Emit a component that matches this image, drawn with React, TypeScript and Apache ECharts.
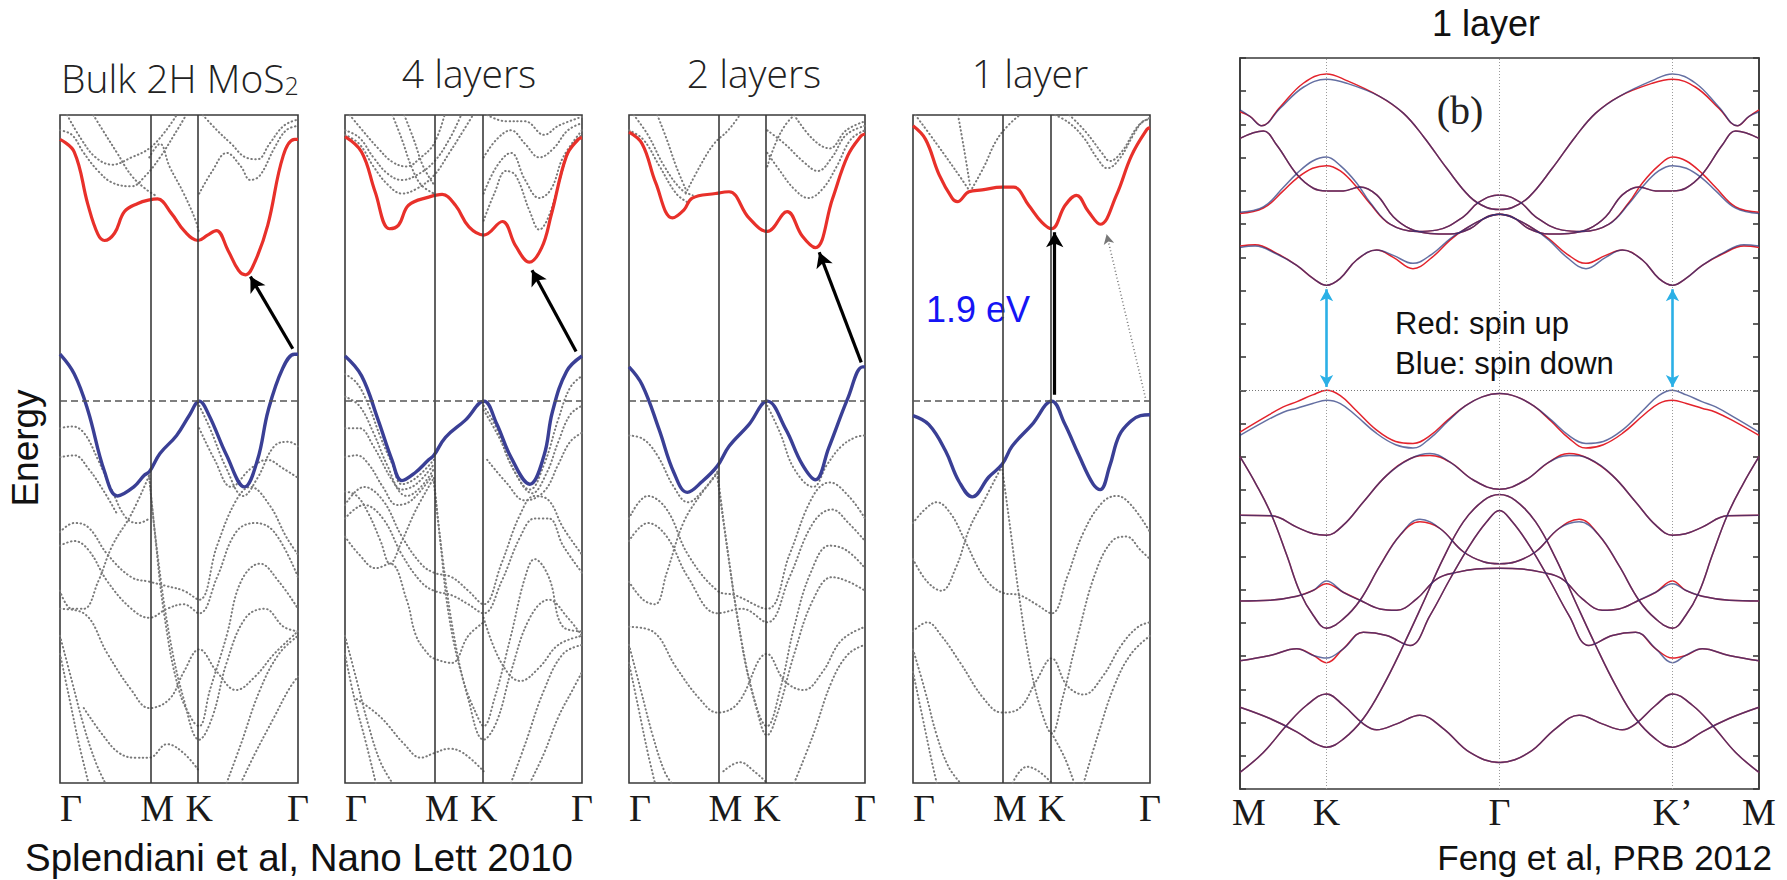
import React, { useEffect, useRef } from "react";
import * as echarts from "echarts";

// ---------------- data: panels 1-4 (Splendiani) ----------------
const K_POS = [0, 0.375, 0.585, 1];
const K_LABELS = ["Γ", "M", "K", "Γ"];
const TITLES = ["Bulk 2H MoS", "4 layers", "2 layers", "1 layer"];
const E_MIN = -4.23;
const E_MAX = 3.17;

const p1CB = [[0,2.90],[0.06,2.76],[0.117,2.18],[0.159,1.85],[0.187,1.78],[0.229,1.86],[0.271,2.10],[0.327,2.19],[0.376,2.23],[0.41,2.24],[0.468,2.08],[0.524,1.88],[0.58,1.78],[0.62,1.84],[0.657,1.89],[0.706,1.67],[0.75,1.45],[0.78,1.40],[0.82,1.55],[0.873,1.95],[0.938,2.72],[0.986,2.90],[1,2.90]];
const p1VB = [[0,0.52],[0.06,0.3],[0.117,-0.1],[0.187,-0.78],[0.242,-1.05],[0.31,-0.95],[0.354,-0.82],[0.376,-0.78],[0.42,-0.58],[0.49,-0.38],[0.545,-0.15],[0.585,0],[0.625,-0.15],[0.70,-0.60],[0.775,-0.95],[0.83,-0.65],[0.875,-0.1],[0.935,0.36],[0.985,0.52],[1,0.52]];
const p2CB = [[0,2.93],[0.07,2.76],[0.127,2.32],[0.187,1.91],[0.226,1.95],[0.268,2.17],[0.353,2.26],[0.41,2.29],[0.466,2.17],[0.523,1.93],[0.586,1.84],[0.664,1.99],[0.72,1.72],[0.778,1.54],[0.83,1.7],[0.87,2.06],[0.935,2.72],[0.984,2.90],[1,2.92]];
const p2VB = [[0,0.50],[0.07,0.28],[0.14,-0.21],[0.198,-0.65],[0.24,-0.88],[0.297,-0.79],[0.353,-0.65],[0.375,-0.60],[0.424,-0.40],[0.508,-0.21],[0.586,0],[0.64,-0.25],[0.70,-0.62],[0.78,-0.92],[0.84,-0.6],[0.875,-0.12],[0.935,0.33],[1,0.50]];
const p3CB = [[0,2.98],[0.056,2.85],[0.113,2.42],[0.184,2.03],[0.233,2.12],[0.268,2.25],[0.367,2.30],[0.424,2.32],[0.508,2.03],[0.586,1.88],[0.67,2.10],[0.734,1.83],[0.79,1.70],[0.862,2.24],[0.927,2.72],[0.984,2.94],[1,2.96]];
const p3VB = [[0,0.38],[0.056,0.18],[0.127,-0.31],[0.19,-0.79],[0.247,-1.01],[0.31,-0.89],[0.374,-0.72],[0.424,-0.50],[0.508,-0.26],[0.586,0],[0.664,-0.31],[0.734,-0.70],[0.79,-0.87],[0.846,-0.52],[0.927,0.03],[0.99,0.38],[1,0.38]];
const p4CB = [[0,3.05],[0.053,2.90],[0.11,2.51],[0.165,2.25],[0.187,2.21],[0.236,2.32],[0.292,2.34],[0.376,2.37],[0.425,2.37],[0.488,2.17],[0.544,1.98],[0.585,1.91],[0.642,2.17],[0.69,2.28],[0.74,2.1],[0.79,1.96],[0.858,2.28],[0.922,2.72],[0.987,3.01],[1,3.03]];
const p4VB = [[0,-0.16],[0.067,-0.26],[0.137,-0.55],[0.194,-0.89],[0.25,-1.06],[0.32,-0.84],[0.376,-0.70],[0.418,-0.50],[0.502,-0.26],[0.585,0],[0.64,-0.25],[0.70,-0.60],[0.76,-0.92],[0.79,-0.98],[0.83,-0.72],[0.87,-0.38],[0.92,-0.22],[0.96,-0.16],[1,-0.15]];

const p1Dots = [
  [[0,3.0],[0.05,2.95],[0.1,2.75],[0.16,2.55],[0.22,2.42],[0.3,2.38],[0.36,2.5],[0.42,2.7],[0.48,2.95],[0.53,3.17]],
  [[0.03,3.17],[0.09,2.9],[0.15,2.7],[0.22,2.62],[0.3,2.7],[0.375,2.8],[0.44,2.98],[0.49,3.17]],
  [[0.14,3.17],[0.18,3.0],[0.24,2.75],[0.3,2.5],[0.36,2.35],[0.4,2.28]],
  [[0.375,2.7],[0.42,2.85],[0.46,2.6],[0.52,2.3],[0.57,2.0],[0.585,1.85]],
  [[0.585,2.3],[0.64,2.55],[0.7,2.75],[0.76,2.6],[0.8,2.45],[0.84,2.5],[0.9,2.8],[0.95,3.0],[1,3.05]],
  [[0.6,3.17],[0.66,3.0],[0.72,2.85],[0.78,2.7],[0.83,2.68],[0.88,2.85],[0.94,3.05],[1,3.12]],
  [[0,-0.3],[0.05,-0.28],[0.1,-0.35],[0.16,-0.65],[0.22,-1.0],[0.28,-1.3],[0.33,-1.35],[0.375,-1.3]],
  [[0,-0.62],[0.06,-0.6],[0.12,-0.75],[0.18,-0.98],[0.24,-1.25]],
  [[0.585,-0.05],[0.63,-0.3],[0.7,-0.75],[0.77,-1.05],[0.83,-0.85],[0.9,-0.5],[0.96,-0.45],[1,-0.5]],
  [[0.585,-0.3],[0.65,-0.65],[0.72,-0.95],[0.8,-0.75],[0.87,-0.65],[0.94,-0.75],[1,-0.85]],
  [[0,-1.45],[0.06,-1.35],[0.12,-1.4],[0.2,-1.7],[0.3,-1.95],[0.375,-2.0],[0.45,-2.05],[0.52,-2.1],[0.585,-2.2],[0.66,-1.6],[0.74,-1.1],[0.8,-0.95],[0.88,-1.15],[0.95,-1.5],[1,-1.7]],
  [[0,-1.6],[0.06,-1.55],[0.12,-1.65],[0.2,-2.0],[0.3,-2.3],[0.375,-2.4],[0.45,-2.3],[0.52,-2.25],[0.585,-2.35],[0.66,-1.95],[0.74,-1.45],[0.82,-1.35],[0.9,-1.45],[1,-1.95]],
  [[0,-2.1],[0.05,-2.3],[0.1,-2.3],[0.16,-2.0],[0.22,-1.6],[0.3,-1.25],[0.375,-0.82]],
  [[0.375,-0.82],[0.4,-1.5],[0.44,-2.4],[0.5,-3.2],[0.56,-3.55],[0.585,-3.6],[0.63,-3.2],[0.7,-2.6],[0.76,-2.0],[0.84,-1.8],[0.92,-2.0],[1,-2.3]],
  [[0.375,-0.85],[0.41,-1.7],[0.46,-2.6],[0.52,-3.3],[0.585,-3.75],[0.64,-3.5],[0.7,-2.9],[0.78,-2.4],[0.86,-2.3],[0.94,-2.5],[1,-2.55]],
  [[0,-2.3],[0.1,-2.35],[0.2,-2.8],[0.3,-3.2],[0.375,-3.4],[0.46,-3.3],[0.52,-3.0],[0.585,-2.75],[0.66,-3.0],[0.74,-3.2],[0.82,-3.05],[0.9,-2.8],[1,-2.55]],
  [[0,-2.6],[0.05,-3.1],[0.1,-3.6],[0.15,-4.0],[0.19,-4.23]],
  [[0,-2.8],[0.04,-3.3],[0.08,-3.8],[0.12,-4.23]],
  [[0.1,-3.4],[0.18,-3.7],[0.25,-3.9],[0.32,-3.95],[0.375,-3.95],[0.45,-3.8],[0.52,-3.9],[0.585,-4.1]],
  [[0.7,-4.23],[0.76,-3.8],[0.84,-3.2],[0.92,-2.8],[1,-2.6]],
  [[0.76,-4.23],[0.82,-3.9],[0.9,-3.5],[0.96,-3.2],[1,-3.05]]
];
const p2Dots = [
  [[0,2.95],[0.06,2.85],[0.12,2.6],[0.18,2.4],[0.24,2.3],[0.3,2.35],[0.375,2.5],[0.44,2.75],[0.5,3.0],[0.54,3.17]],
  [[0,3.0],[0.06,2.92],[0.12,2.7],[0.18,2.52],[0.24,2.45],[0.3,2.5],[0.375,2.65],[0.44,2.9],[0.49,3.17]],
  [[0.02,3.17],[0.08,2.98],[0.14,2.8],[0.2,2.65],[0.26,2.6],[0.32,2.7],[0.375,2.85],[0.42,3.17]],
  [[0.2,3.17],[0.24,2.9],[0.28,2.6],[0.32,2.4],[0.375,2.3]],
  [[0.25,3.17],[0.29,2.9],[0.33,2.6],[0.375,2.4]],
  [[0.585,2.0],[0.63,2.3],[0.68,2.55],[0.72,2.5],[0.78,2.1],[0.82,1.9],[0.86,2.05],[0.9,2.4],[0.95,2.8],[1,2.95]],
  [[0.585,2.3],[0.64,2.6],[0.7,2.75],[0.76,2.45],[0.82,2.25],[0.87,2.35],[0.92,2.7],[1,3.0]],
  [[0.585,2.7],[0.64,2.9],[0.7,3.0],[0.76,2.85],[0.82,2.7],[0.88,2.8],[0.94,3.0],[1,3.08]],
  [[0.6,3.17],[0.68,3.1],[0.76,3.1],[0.84,2.95],[0.9,3.05],[1,3.15]],
  [[0,0.3],[0.05,0.2],[0.1,-0.05],[0.15,-0.4],[0.2,-0.7],[0.24,-0.92],[0.3,-0.85],[0.375,-0.65]],
  [[0,0.05],[0.06,-0.05],[0.12,-0.35],[0.18,-0.72],[0.24,-0.98],[0.3,-0.92],[0.375,-0.7]],
  [[0,-0.3],[0.06,-0.3],[0.12,-0.5],[0.2,-0.88],[0.26,-1.05],[0.32,-0.95],[0.375,-0.75]],
  [[0,-0.62],[0.05,-0.6],[0.1,-0.7],[0.16,-0.95],[0.22,-1.15],[0.28,-1.1],[0.375,-0.8]],
  [[0.585,-0.05],[0.64,-0.3],[0.7,-0.7],[0.78,-0.98],[0.84,-0.7],[0.9,-0.2],[0.95,0.15],[1,0.28]],
  [[0.585,-0.1],[0.65,-0.4],[0.72,-0.8],[0.79,-1.02],[0.85,-0.8],[0.9,-0.45],[0.95,-0.15],[1,-0.05]],
  [[0.6,-0.65],[0.68,-0.9],[0.76,-1.1],[0.84,-1.0],[0.9,-0.7],[0.95,-0.45],[1,-0.35]],
  [[0,-1.0],[0.05,-1.05],[0.1,-1.25],[0.15,-1.55],[0.19,-1.8],[0.24,-1.55],[0.3,-1.2],[0.375,-0.85]],
  [[0,-1.5],[0.06,-1.7],[0.13,-1.85],[0.19,-1.8],[0.26,-2.2],[0.3,-2.6],[0.35,-2.8],[0.375,-2.85],[0.45,-2.9],[0.52,-2.6],[0.585,-2.45]],
  [[0,-1.15],[0.08,-0.95],[0.16,-1.1],[0.24,-1.5],[0.32,-1.8],[0.375,-1.9],[0.45,-1.95],[0.52,-2.1],[0.585,-2.25],[0.66,-1.8],[0.74,-1.25],[0.8,-1.05],[0.86,-1.1],[0.92,-1.4],[1,-1.7]],
  [[0,-1.3],[0.08,-1.15],[0.16,-1.3],[0.24,-1.7],[0.32,-2.0],[0.375,-2.1],[0.45,-2.15],[0.52,-2.25],[0.585,-2.35],[0.66,-2.0],[0.74,-1.5],[0.8,-1.3],[0.86,-1.3],[0.92,-1.6],[1,-1.9]],
  [[0.375,-0.85],[0.4,-1.5],[0.44,-2.4],[0.5,-3.1],[0.56,-3.5],[0.585,-3.6],[0.63,-3.3],[0.7,-2.6],[0.76,-1.95],[0.8,-1.75],[0.86,-1.95],[0.92,-2.5],[1,-2.55]],
  [[0.375,-0.9],[0.41,-1.7],[0.46,-2.6],[0.52,-3.3],[0.585,-3.75],[0.64,-3.55],[0.7,-3.0],[0.78,-2.4],[0.86,-2.2],[0.94,-2.4],[1,-2.6]],
  [[0,-2.6],[0.05,-3.1],[0.1,-3.6],[0.15,-4.0],[0.2,-4.23]],
  [[0,-2.8],[0.04,-3.3],[0.09,-3.8],[0.13,-4.23]],
  [[0.05,-3.3],[0.15,-3.5],[0.25,-3.8],[0.32,-3.95],[0.375,-3.9],[0.44,-3.85],[0.5,-3.9],[0.585,-4.1]],
  [[0.585,-2.4],[0.66,-2.9],[0.74,-3.1],[0.82,-2.95],[0.9,-2.7],[1,-2.6]],
  [[0.7,-4.23],[0.76,-3.8],[0.84,-3.2],[0.92,-2.8],[1,-2.7]],
  [[0.78,-4.23],[0.84,-3.9],[0.9,-3.5],[0.96,-3.2],[1,-3.0]]
];
const p3Dots = [
  [[0,3.0],[0.06,2.9],[0.13,2.6],[0.2,2.3],[0.25,2.2]],
  [[0.02,3.17],[0.08,2.95],[0.15,2.6],[0.22,2.35],[0.27,2.28]],
  [[0.12,3.17],[0.16,2.9],[0.2,2.6],[0.24,2.35]],
  [[0.24,2.3],[0.3,2.6],[0.36,2.85],[0.42,3.0],[0.47,3.17]],
  [[0.586,2.6],[0.62,2.85],[0.66,3.05],[0.7,3.17]],
  [[0.586,2.75],[0.64,2.55],[0.7,2.35],[0.76,2.25],[0.82,2.35],[0.88,2.6],[0.94,2.9],[1,3.0]],
  [[0.586,3.0],[0.66,2.85],[0.74,2.65],[0.8,2.55],[0.86,2.7],[0.92,2.95],[1,3.05]],
  [[0.7,3.17],[0.78,2.9],[0.85,2.8],[0.92,3.0],[1,3.1]],
  [[0,-0.38],[0.06,-0.42],[0.12,-0.6],[0.19,-0.95],[0.25,-1.12],[0.31,-1.0],[0.375,-0.78]],
  [[0.586,-0.05],[0.64,-0.35],[0.7,-0.75],[0.78,-0.95],[0.84,-0.7],[0.9,-0.5],[0.96,-0.4],[1,-0.38]],
  [[0,-1.3],[0.08,-1.05],[0.16,-1.2],[0.25,-1.7],[0.375,-2.1],[0.45,-2.15],[0.585,-2.3],[0.68,-1.7],[0.78,-1.05],[0.85,-0.9],[0.93,-1.05],[1,-1.3]],
  [[0,-1.55],[0.08,-1.35],[0.16,-1.5],[0.25,-1.95],[0.375,-2.35],[0.48,-2.3],[0.585,-2.45],[0.68,-1.95],[0.78,-1.35],[0.86,-1.2],[0.93,-1.35],[1,-1.55]],
  [[0,-2.0],[0.06,-2.2],[0.11,-2.25],[0.16,-1.9],[0.23,-1.35],[0.3,-1.05],[0.375,-0.8]],
  [[0.375,-0.8],[0.41,-1.5],[0.46,-2.4],[0.52,-3.2],[0.585,-3.6],[0.64,-3.2],[0.7,-2.5],[0.77,-1.9],[0.85,-1.6],[0.92,-1.65],[1,-1.85]],
  [[0.375,-0.85],[0.42,-1.7],[0.48,-2.7],[0.54,-3.4],[0.585,-3.7],[0.63,-3.45],[0.7,-2.8],[0.78,-2.2],[0.86,-1.95],[0.93,-2.0],[1,-2.1]],
  [[0,-2.5],[0.1,-2.55],[0.2,-2.95],[0.3,-3.3],[0.375,-3.45],[0.46,-3.35],[0.585,-2.8],[0.66,-3.1],[0.74,-3.2],[0.82,-3.0],[0.9,-2.65],[1,-2.5]],
  [[0,-2.7],[0.05,-3.2],[0.1,-3.7],[0.15,-4.1],[0.18,-4.23]],
  [[0,-2.9],[0.04,-3.4],[0.08,-3.9],[0.11,-4.23]],
  [[0.7,-4.23],[0.78,-3.7],[0.86,-3.1],[0.93,-2.8],[1,-2.7]],
  [[0.4,-4.1],[0.47,-4.0],[0.53,-4.1],[0.585,-4.23]]
];
const p4Dots = [
  [[0.01,3.17],[0.1,2.85],[0.2,2.48],[0.236,2.34]],
  [[0.19,3.17],[0.215,2.8],[0.24,2.4]],
  [[0.25,2.36],[0.3,2.6],[0.35,2.88],[0.4,3.05],[0.45,3.17]],
  [[0.6,3.17],[0.66,3.08],[0.72,2.92],[0.78,2.68],[0.82,2.58],[0.87,2.68],[0.93,2.95],[0.97,3.1],[1,3.12]],
  [[0.66,3.17],[0.73,2.98],[0.8,2.74],[0.83,2.66],[0.88,2.76],[0.95,3.05],[1,3.14]],
  [[0,-1.35],[0.05,-1.2],[0.1,-1.12],[0.16,-1.25],[0.22,-1.55],[0.3,-1.95],[0.375,-2.12],[0.45,-2.15],[0.52,-2.25],[0.585,-2.35],[0.65,-1.95],[0.72,-1.45],[0.8,-1.12],[0.86,-1.05],[0.92,-1.15],[1,-1.45]],
  [[0,-1.75],[0.06,-2.0],[0.12,-2.1],[0.18,-1.85],[0.24,-1.4],[0.3,-1.1],[0.375,-0.72]],
  [[0.375,-0.72],[0.41,-1.4],[0.45,-2.2],[0.5,-3.0],[0.55,-3.5],[0.585,-3.68],[0.63,-3.3],[0.7,-2.55],[0.77,-1.9],[0.84,-1.55],[0.9,-1.5],[0.96,-1.65],[1,-1.75]],
  [[0,-2.55],[0.06,-2.45],[0.12,-2.6],[0.2,-2.9],[0.3,-3.3],[0.375,-3.45],[0.45,-3.4],[0.52,-3.1],[0.585,-2.85],[0.65,-3.15],[0.72,-3.25],[0.8,-3.05],[0.88,-2.7],[0.95,-2.5],[1,-2.45]],
  [[0,-2.75],[0.05,-3.2],[0.1,-3.7],[0.15,-4.05],[0.2,-4.23]],
  [[0,-3.0],[0.04,-3.5],[0.08,-4.0],[0.1,-4.23]],
  [[0.585,-3.68],[0.64,-3.95],[0.68,-4.23]],
  [[0.72,-4.23],[0.78,-3.7],[0.85,-3.15],[0.92,-2.8],[1,-2.6]],
  [[0.42,-4.23],[0.48,-4.05],[0.53,-4.1],[0.585,-4.23]]
];

const ARROWS = [
  { from: [0.978, 0.58], to: [0.80, 1.38] },
  { from: [0.975, 0.55], to: [0.789, 1.45] },
  { from: [0.984, 0.43], to: [0.806, 1.65] },
  { from: [0.598, 0.07], to: [0.598, 1.87] }
];
const P4_INDIRECT = { from: [0.984, 0.0], to: [0.817, 1.85] };

// ---------------- data: panel 5 (Feng) [k, E_up(red), E_down(blue)] ----------------
const K5_POS = [0, 0.5, 1.5, 2.5, 3];
const K5_LABELS = ["M", "K", "Γ", "K\u2019", "M"];
const GAP_ARROWS = [
  { from: [0.5, 0.05], to: [0.5, 1.52] },
  { from: [2.5, 0.05], to: [2.5, 1.52] }
];

const bT1 = [[0,4.19,4.22],[0.058,4.12],[0.125,3.98],[0.231,4.26,4.24],[0.366,4.62,4.56],[0.5,4.76,4.68],[0.617,4.66,4.62],[0.809,4.42],[0.944,4.17],[1.06,3.82],[1.195,3.34],[1.329,2.91],[1.426,2.75],[1.5,2.72],[1.574,2.75],[1.671,2.91],[1.805,3.34],[1.94,3.82],[2.056,4.17],[2.191,4.42],[2.383,4.62,4.66],[2.5,4.68,4.76],[2.634,4.56,4.62],[2.769,4.24,4.26],[2.875,3.98],[2.942,4.12],[3,4.22,4.19]];
const bT2 = [[0,3.79],[0.135,3.90],[0.212,3.69],[0.328,3.25],[0.424,3.04],[0.5,3.0],[0.597,3.0],[0.694,3.06],[0.79,2.94],[0.886,2.61],[0.983,2.43],[1.098,2.36],[1.214,2.35],[1.329,2.43],[1.426,2.61],[1.5,2.65],[1.574,2.61],[1.671,2.43],[1.786,2.35],[1.902,2.36],[2.017,2.43],[2.114,2.61],[2.21,2.94],[2.306,3.06],[2.403,3.0],[2.5,3.0],[2.576,3.04],[2.672,3.25],[2.788,3.69],[2.865,3.90],[3,3.79]];
const bT3 = [[0,2.66,2.68],[0.135,2.74,2.76],[0.25,3.0,3.05],[0.328,3.19,3.26],[0.42,3.34,3.45],[0.5,3.38,3.51],[0.58,3.30,3.38],[0.674,3.06,3.12],[0.751,2.81,2.83],[0.867,2.5],[1.021,2.39],[1.137,2.41],[1.291,2.61],[1.381,2.83],[1.5,2.94],[1.619,2.83],[1.709,2.61],[1.863,2.41],[1.979,2.39],[2.133,2.5],[2.249,2.83,2.81],[2.326,3.12,3.06],[2.42,3.38,3.30],[2.5,3.51,3.38],[2.58,3.45,3.34],[2.672,3.26,3.19],[2.75,3.05,3.0],[2.865,2.76,2.74],[3,2.68,2.66]];
const bA = [[0,2.17,2.15],[0.087,2.19,2.17],[0.212,2.06,2.05],[0.328,1.88],[0.424,1.68],[0.5,1.58],[0.578,1.68],[0.674,1.96],[0.79,2.11],[0.886,2.0,2.03],[1.0,1.83,1.91],[1.11,2.0,2.05],[1.214,2.26,2.28],[1.291,2.41],[1.407,2.58],[1.5,2.65],[1.593,2.58],[1.709,2.41],[1.786,2.28,2.26],[1.89,2.05,2.0],[2.0,1.91,1.83],[2.114,2.03,2.0],[2.21,2.11],[2.326,1.96],[2.422,1.68],[2.5,1.58],[2.576,1.68],[2.672,1.88],[2.788,2.05,2.06],[2.913,2.17,2.19],[3,2.15,2.17]];
const bV1 = [[0,-0.63,-0.68],[0.135,-0.42,-0.48],[0.25,-0.25,-0.33],[0.33,-0.17,-0.27],[0.42,-0.07,-0.2],[0.5,0,-0.15],[0.58,-0.08,-0.2],[0.67,-0.3,-0.38],[0.79,-0.6,-0.65],[0.9,-0.77,-0.82],[1.0,-0.8,-0.87],[1.1,-0.68,-0.72],[1.2,-0.45,-0.47],[1.3,-0.24],[1.4,-0.1],[1.5,-0.05],[1.6,-0.1],[1.7,-0.24],[1.8,-0.47,-0.45],[1.9,-0.72,-0.68],[2.0,-0.87,-0.8],[2.1,-0.82,-0.77],[2.21,-0.65,-0.6],[2.33,-0.38,-0.3],[2.42,-0.2,-0.08],[2.5,-0.15,0],[2.58,-0.2,-0.07],[2.67,-0.27,-0.17],[2.75,-0.33,-0.25],[2.865,-0.48,-0.42],[3,-0.68,-0.63]];
const bV2 = [[0,-1.0],[0.096,-1.43],[0.183,-1.88],[0.27,-2.48],[0.347,-3.04],[0.424,-3.39],[0.5,-3.58],[0.597,-3.44],[0.694,-3.16],[0.809,-2.64],[0.925,-2.18],[1.04,-1.98,-1.94],[1.156,-2.08],[1.291,-2.43],[1.407,-2.58],[1.5,-2.61],[1.593,-2.58],[1.709,-2.43],[1.844,-2.08],[1.96,-1.94,-1.98],[2.075,-2.18],[2.191,-2.64],[2.306,-3.16],[2.403,-3.44],[2.5,-3.58],[2.576,-3.39],[2.653,-3.04],[2.73,-2.48],[2.817,-1.88],[2.904,-1.43],[3,-1.0]];
const bV3 = [[0,-1.88],[0.183,-1.89],[0.328,-2.06],[0.424,-2.16],[0.5,-2.18],[0.597,-2.03],[0.713,-1.68],[0.848,-1.28],[0.983,-1.03],[1.098,-0.98,-0.95],[1.214,-1.08],[1.349,-1.35],[1.5,-1.49],[1.651,-1.35],[1.786,-1.08],[1.902,-0.95,-0.98],[2.017,-1.03],[2.152,-1.28],[2.287,-1.68],[2.403,-2.03],[2.5,-2.18],[2.576,-2.16],[2.672,-2.06],[2.817,-1.89],[3,-1.88]];
const bV4 = [[0,-4.77],[0.173,-4.94],[0.328,-5.14],[0.424,-5.3],[0.5,-5.37],[0.597,-5.25],[0.713,-4.94],[0.829,-4.44],[0.944,-3.84],[1.06,-3.19],[1.175,-2.53],[1.291,-1.98],[1.407,-1.66],[1.5,-1.57],[1.593,-1.66],[1.709,-1.98],[1.825,-2.53],[1.94,-3.19],[2.056,-3.84],[2.171,-4.44],[2.287,-4.94],[2.403,-5.25],[2.5,-5.37],[2.576,-5.3],[2.672,-5.14],[2.827,-4.94],[3,-4.77]];
const bV5 = [[0,-4.07],[0.173,-3.99],[0.328,-3.89],[0.424,-3.99],[0.5,-4.1,-4.03],[0.597,-3.89],[0.713,-3.64],[0.848,-3.69],[0.983,-3.84],[1.098,-3.39],[1.214,-2.84],[1.329,-2.33],[1.426,-1.98],[1.5,-1.81],[1.574,-1.98],[1.671,-2.33],[1.786,-2.84],[1.902,-3.39],[2.017,-3.84],[2.152,-3.69],[2.287,-3.64],[2.403,-3.89],[2.5,-4.03,-4.1],[2.576,-3.99],[2.672,-3.89],[2.827,-3.99],[3,-4.07]];
const bV6 = [[0,-3.17],[0.173,-3.16],[0.328,-3.1],[0.424,-3.01],[0.5,-2.91,-2.87],[0.597,-3.04],[0.694,-3.16],[0.809,-3.29],[0.906,-3.31],[1.021,-3.14],[1.137,-2.84],[1.252,-2.74],[1.368,-2.69],[1.5,-2.68],[1.632,-2.69],[1.748,-2.74],[1.863,-2.84],[1.979,-3.14],[2.094,-3.31],[2.191,-3.29],[2.306,-3.16],[2.403,-3.04],[2.5,-2.87,-2.91],[2.576,-3.01],[2.672,-3.1],[2.827,-3.16],[3,-3.17]];
const bV7 = [[0,-5.75],[0.135,-5.45],[0.27,-5.04],[0.385,-4.74],[0.5,-4.57],[0.597,-4.74],[0.713,-5.02],[0.79,-5.11],[0.906,-5.02],[1.04,-4.89],[1.175,-5.09],[1.329,-5.45],[1.5,-5.6],[1.671,-5.45],[1.825,-5.09],[1.96,-4.89],[2.094,-5.02],[2.21,-5.11],[2.287,-5.02],[2.403,-4.74],[2.5,-4.57],[2.615,-4.74],[2.73,-5.04],[2.865,-5.45],[3,-5.75]];
const P5_BANDS = [bT1, bT2, bT3, bA, bV1, bV2, bV3, bV4, bV5, bV6, bV7];

// ---------------- layout ----------------
const PANEL_LEFT = [60, 345, 629, 913];
const PANEL_W = [238, 237, 236, 237];
const PANEL_TOP = 115;
const PANEL_H = 668;
const P5 = { left: 1240, top: 58, width: 519, height: 731 };
const SANS = "'Liberation Sans', Arial, sans-serif";
const SERIF = "'Liberation Serif', 'Times New Roman', serif";
const TITLE_FONT = "'Open Sans', 'Noto Sans', sans-serif";

function buildOption() {
  const grid: any[] = [];
  const xAxis: any[] = [];
  const yAxis: any[] = [];
  const series: any[] = [];
  const cbs = [p1CB, p2CB, p3CB, p4CB];
  const vbs = [p1VB, p2VB, p3VB, p4VB];
  const dots = [p1Dots, p2Dots, p3Dots, p4Dots];

  for (let i = 0; i < 4; i++) {
    grid.push({ left: PANEL_LEFT[i], top: PANEL_TOP, width: PANEL_W[i], height: PANEL_H, show: true, borderColor: "#3a3a3a", borderWidth: 1.6, backgroundColor: "transparent", containLabel: false });
    xAxis.push({
      gridIndex: i, type: "value", min: 0, max: 1,
      axisLine: { show: false }, axisTick: { show: false }, splitLine: { show: false },
      axisLabel: {
        show: true, customValues: K_POS, margin: 6, alignMinLabel: "left", alignMaxLabel: "center",
        fontFamily: SERIF, fontSize: 38, color: "#1a1a1a",
        formatter: (v: number) => {
          const idx = K_POS.findIndex((p) => Math.abs(p - v) < 1e-6);
          const lab = idx >= 0 ? K_LABELS[idx] : "";
          return idx === 1 ? "{m|" + lab + "}" : lab;
        },
        rich: { m: { fontFamily: SERIF, fontSize: 38, color: "#1a1a1a", padding: [0, 0, 0, 16] } }
      }
    });
    yAxis.push({ gridIndex: i, type: "value", min: E_MIN, max: E_MAX, show: false, splitLine: { show: false } });

    series.push({
      type: "line", xAxisIndex: i, yAxisIndex: i, data: [], silent: true, z: 1,
      markLine: {
        silent: true, symbol: ["none", "none"], label: { show: false }, animation: false,
        data: [
          { xAxis: K_POS[1], lineStyle: { color: "#3a3a3a", width: 1.6, type: "solid" } },
          { xAxis: K_POS[2], lineStyle: { color: "#3a3a3a", width: 1.6, type: "solid" } },
          { yAxis: 0, lineStyle: { color: "#555", width: 1.6, type: [7, 4] } }
        ]
      }
    });
    dots[i].forEach((d) => {
      series.push({
        type: "line", xAxisIndex: i, yAxisIndex: i, data: d, smooth: 0.4, showSymbol: false, silent: true, z: 2,
        lineStyle: { color: "#7a7a7a", width: 2, type: [0.5, 3.4], cap: "round" }
      });
    });
    series.push({
      type: "line", xAxisIndex: i, yAxisIndex: i, data: vbs[i], smooth: 0.4, showSymbol: false, silent: true, z: 3,
      lineStyle: { color: "#3a3f95", width: 3.4 }
    });
    series.push({
      type: "line", xAxisIndex: i, yAxisIndex: i, data: cbs[i], smooth: 0.4, showSymbol: false, silent: true, z: 3,
      lineStyle: { color: "#e8302a", width: 3.2 }
    });
    const arrowData: any[] = [
      [
        { coord: ARROWS[i].from, symbol: "none", lineStyle: { color: "#000", width: 3.2, type: "solid" } },
        { coord: ARROWS[i].to, symbol: "arrow", symbolSize: [13, 15] }
      ]
    ];
    if (i === 3) {
      arrowData.push([
        { coord: P4_INDIRECT.from, symbol: "none", lineStyle: { color: "#777", width: 1.6, type: [1, 2.5] } },
        { coord: P4_INDIRECT.to, symbol: "arrow", symbolSize: [8, 10] }
      ]);
    }
    series.push({
      type: "line", xAxisIndex: i, yAxisIndex: i, data: [], silent: true, z: 5,
      markLine: { silent: true, symbol: ["none", "arrow"], label: { show: false }, animation: false, data: arrowData }
    });
  }

  // panel 5
  grid.push({ left: P5.left, top: P5.top, width: P5.width, height: P5.height, show: true, borderColor: "#3a3a3a", borderWidth: 1.6, backgroundColor: "transparent" });
  xAxis.push({
    gridIndex: 4, type: "value", min: 0, max: 3,
    axisLine: { show: false }, axisTick: { show: false }, splitLine: { show: false },
    axisLabel: {
      show: true, customValues: K5_POS, margin: 4, fontFamily: SERIF, fontSize: 38, color: "#1a1a1a",
      alignMinLabel: "center", alignMaxLabel: "center",
      formatter: (v: number) => {
        const j = K5_POS.findIndex((p) => Math.abs(p - v) < 1e-6);
        const lab = j >= 0 ? K5_LABELS[j] : "";
        return j === 0 ? "{l|" + lab + "}" : lab;
      },
      rich: { l: { fontFamily: SERIF, fontSize: 38, color: "#1a1a1a", padding: [0, 0, 0, 18] } }
    }
  });
  const tickAxis = (pos: string) => ({
    gridIndex: 4, type: "value", min: -6, max: 5, interval: 0.5, position: pos,
    axisLine: { show: true, lineStyle: { color: "#3a3a3a", width: 1.6 } },
    axisTick: { show: true, inside: true, length: 6, lineStyle: { color: "#3a3a3a", width: 1.6 } },
    axisLabel: { show: false }, splitLine: { show: false }
  });
  yAxis.push(tickAxis("left"));
  yAxis.push(tickAxis("right"));

  series.push({
    type: "line", xAxisIndex: 4, yAxisIndex: 4, data: [], silent: true, z: 1,
    markLine: {
      silent: true, symbol: ["none", "none"], label: { show: false }, animation: false,
      data: [
        { xAxis: K5_POS[1], lineStyle: { color: "#9a9a9a", width: 1, type: [1, 2] } },
        { xAxis: K5_POS[2], lineStyle: { color: "#9a9a9a", width: 1, type: [1, 2] } },
        { xAxis: K5_POS[3], lineStyle: { color: "#9a9a9a", width: 1, type: [1, 2] } },
        { yAxis: 0, lineStyle: { color: "#777", width: 1, type: [1, 2] } }
      ]
    }
  });
  P5_BANDS.forEach((band) => {
    series.push({
      type: "line", xAxisIndex: 4, yAxisIndex: 4, smooth: 0.4, showSymbol: false, silent: true, z: 2,
      data: band.map((t) => [t[0], t[1]]),
      lineStyle: { color: "#e3232c", width: 1.5 }
    });
    series.push({
      type: "line", xAxisIndex: 4, yAxisIndex: 4, smooth: 0.4, showSymbol: false, silent: true, z: 3,
      data: band.map((t) => [t[0], t.length > 2 ? t[2] : t[1]]),
      lineStyle: { color: "#22327a", width: 1.5, opacity: 0.7 }
    });
  });
  series.push({
    type: "line", xAxisIndex: 4, yAxisIndex: 4, data: [], silent: true, z: 5,
    markLine: {
      silent: true, symbol: ["arrow", "arrow"], symbolSize: [10, 12], label: { show: false }, animation: false,
      lineStyle: { color: "#2bb0e6", width: 2.6, type: "solid" },
      data: GAP_ARROWS.map((a) => [{ coord: a.from }, { coord: a.to }])
    }
  });

  const graphic: any[] = [
    {
      type: "text", x: 61, y: 72,
      style: {
        text: "{a|" + TITLES[0] + "}{b|2}", align: "left", verticalAlign: "middle",
        rich: {
          a: { fontFamily: TITLE_FONT, fontWeight: 300, fontSize: 39, fill: "#222", lineHeight: 50, verticalAlign: "bottom" },
          b: { fontFamily: TITLE_FONT, fontWeight: 300, fontSize: 25, fill: "#222", lineHeight: 20, verticalAlign: "bottom" }
        }
      }
    },
    { type: "text", x: 469, y: 72, style: { text: TITLES[1], fontFamily: TITLE_FONT, fontWeight: 300, fontSize: 39, fill: "#222", align: "center", verticalAlign: "middle" } },
    { type: "text", x: 754, y: 72, style: { text: TITLES[2], fontFamily: TITLE_FONT, fontWeight: 300, fontSize: 39, fill: "#222", align: "center", verticalAlign: "middle" } },
    { type: "text", x: 1030, y: 72, style: { text: TITLES[3], fontFamily: TITLE_FONT, fontWeight: 300, fontSize: 39, fill: "#222", align: "center", verticalAlign: "middle" } },
    { type: "text", x: 1486, y: 23, style: { text: "1 layer", fontFamily: SANS, fontSize: 36, fill: "#111", align: "center", verticalAlign: "middle" } },
    { type: "text", x: 25, y: 448, rotation: Math.PI / 2, style: { text: "Energy", fontFamily: SANS, fontSize: 37, fill: "#111", align: "center", verticalAlign: "middle" } },
    { type: "text", x: 978, y: 309, style: { text: "1.9 eV", fontFamily: SANS, fontSize: 36, fill: "#1515f5", align: "center", verticalAlign: "middle" } },
    { type: "text", x: 1460, y: 110, style: { text: "(b)", fontFamily: SERIF, fontSize: 40, fill: "#222", align: "center", verticalAlign: "middle" } },
    { type: "text", x: 1395, y: 323, style: { text: "Red: spin up", fontFamily: SANS, fontSize: 31, fill: "#111", align: "left", verticalAlign: "middle" } },
    { type: "text", x: 1395, y: 363, style: { text: "Blue: spin down", fontFamily: SANS, fontSize: 31, fill: "#111", align: "left", verticalAlign: "middle" } },
    { type: "text", x: 25, y: 857, style: { text: "Splendiani et al, Nano Lett 2010", fontFamily: SANS, fontSize: 38.5, fill: "#111", align: "left", verticalAlign: "middle" } },
    { type: "text", x: 1772, y: 857, style: { text: "Feng et al, PRB 2012", fontFamily: SANS, fontSize: 35, fill: "#111", align: "right", verticalAlign: "middle" } }
  ];

  return { animation: false, backgroundColor: "#ffffff", grid, xAxis, yAxis, series, graphic };
}

export default function App() {
  const ref = useRef<HTMLDivElement>(null);
  useEffect(() => {
    const chart = echarts.init(ref.current as HTMLDivElement, null, { renderer: "svg" });
    chart.setOption(buildOption() as any);
    return () => chart.dispose();
  }, []);
  return <div ref={ref} style={{ position: "absolute", left: 0, top: 0, width: 1787, height: 880, background: "#fff" }} />;
}
